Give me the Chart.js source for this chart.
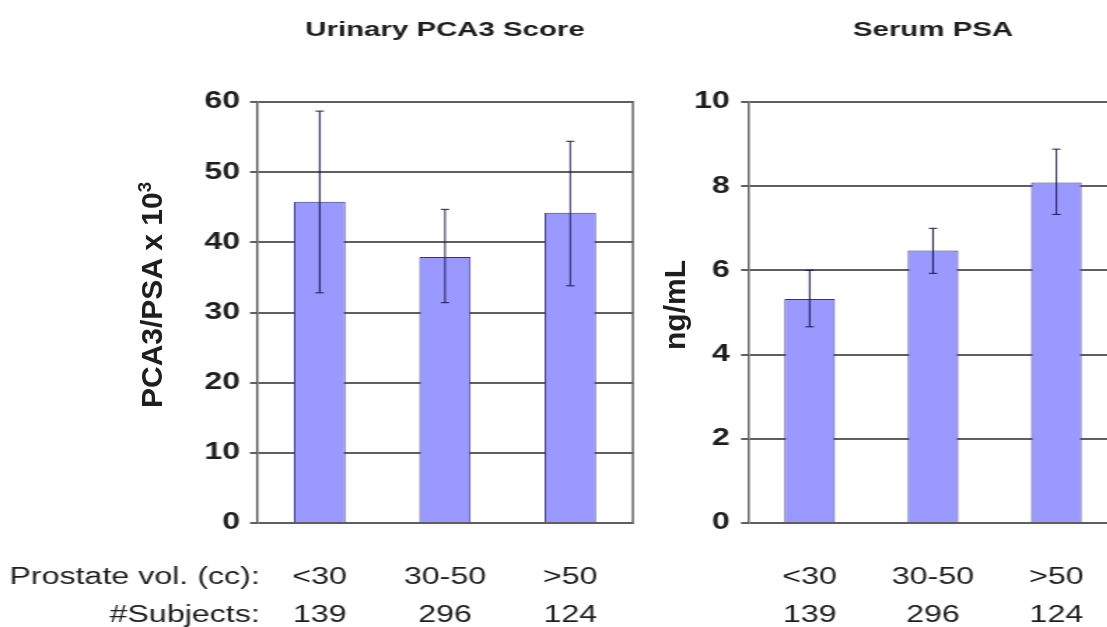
<!DOCTYPE html>
<html>
<head>
<meta charset="utf-8">
<script src="https://cdn.jsdelivr.net/npm/chart.js@4/dist/chart.umd.min.js"></script>
<style>
  html, body { margin: 0; padding: 0; background: #fff; overflow: hidden; width: 1107px; height: 627px; }
  /* 元画像は横に引き伸ばされているので、描画面ごと横に伸ばす */
  #stage { position: absolute; left: 0; top: 0; width: 791px; height: 627px; transform: scaleX(1.4); transform-origin: 0 0; }
  #stage canvas { position: absolute; top: 0; }
  .ytitle { position: absolute; transform: translate(-50%, -50%) rotate(-90deg); white-space: nowrap;
            font: bold 30px "Liberation Sans", Arial, sans-serif; color: #1e1e1e; }
  .ytitle sup { font-size: 0.62em; line-height: 0; }
</style>
</head>
<body>
<div id="stage">
  <canvas id="pca3_chart" width="460" height="627" style="left:0px"></canvas>
  <canvas id="psa_chart" width="331" height="627" style="left:470px"></canvas>
</div>
<div class="ytitle" style="left:152px; top:295px">PCA3/PSA x 10<sup>3</sup></div>
<div class="ytitle" style="left:675px; top:305px">ng/mL</div>
<script>
// カテゴリ（前立腺容積）と被験者数
const volumes  = ['<30', '30-50', '>50'];
const subjects = ['139', '296', '124'];
const rowLabels = ['Prostate vol. (cc):', '#Subjects:'];

// 尿中PCA3スコア（平均・誤差範囲）
const pca3Mean = [45.8, 37.9, 44.2];
const pca3Low  = [32.8, 31.4, 33.8];
const pca3High = [58.7, 44.7, 54.4];

// 血清PSA（平均・誤差範囲）
const psaMean = [5.32, 6.47, 8.09];
const psaLow  = [4.66, 5.93, 7.33];
const psaHigh = [6.00, 7.00, 8.88];

Chart.defaults.font.family = '"Liberation Sans", Arial, sans-serif';
Chart.defaults.color = '#1e1e1e';
Chart.defaults.animation = false;

const gridColor = '#5f5f5f';
const labelGap = 36;   // 軸とカテゴリラベルの間隔

// エラーバーを描画
const errorBarPlugin = {
    id: 'errorBars',
    afterDatasetsDraw(chart) {
        const ctx = chart.ctx;
        const yScale = chart.scales.y;
        chart.data.datasets.forEach((ds, di) => {
            const meta = chart.getDatasetMeta(di);
            meta.data.forEach((bar, i) => {
                const yLow = yScale.getPixelForValue(ds.errLow[i]);
                const yHigh = yScale.getPixelForValue(ds.errHigh[i]);
                ctx.save();
                ctx.strokeStyle = '#1c1c50';
                ctx.lineWidth = 1;
                ctx.beginPath();
                ctx.moveTo(bar.x, yLow);
                ctx.lineTo(bar.x, yHigh);
                ctx.moveTo(bar.x - 3, yHigh);
                ctx.lineTo(bar.x + 3, yHigh);
                ctx.moveTo(bar.x - 3, yLow);
                ctx.lineTo(bar.x + 3, yLow);
                ctx.stroke();
                ctx.restore();
            });
        });
    }
};

// 右側の枠線
const framePlugin = {
    id: 'frameRight',
    beforeDatasetsDraw(chart) {
        const a = chart.chartArea;
        const ctx = chart.ctx;
        ctx.save();
        ctx.strokeStyle = gridColor;
        ctx.lineWidth = 1.5;
        ctx.beginPath();
        ctx.moveTo(a.right, a.top - 1);
        ctx.lineTo(a.right, a.bottom + 1);
        ctx.stroke();
        ctx.restore();
    }
};

// 行見出し（Prostate vol. / #Subjects）
const rowLabelPlugin = {
    id: 'rowLabels',
    afterDraw(chart) {
        const xScale = chart.scales.x;
        const ctx = chart.ctx;
        const lh = 38;
        const top = xScale.top + labelGap;
        ctx.save();
        ctx.font = '23px "Liberation Sans", Arial, sans-serif';
        ctx.fillStyle = '#1e1e1e';
        ctx.textAlign = 'right';
        ctx.textBaseline = 'middle';
        rowLabels.forEach((t, i) => {
            ctx.fillText(t, chart.chartArea.left + 2, top + lh * (i + 0.5));
        });
        ctx.restore();
    }
};

function createChart(canvasId, title, mean, low, high, yMax, yStep, yWidth, padRight, tickPad, extraPlugins){
    const ctx = document.getElementById(canvasId).getContext('2d');
    return new Chart(ctx, {
        type: 'bar',
        data: {
            labels: volumes.map((v, i) => [v, subjects[i]]),
            datasets: [{
                data: mean,
                errLow: low,
                errHigh: high,
                backgroundColor: '#9999ff',
                borderColor: '#333388',
                borderWidth: 1,
                barPercentage: 0.41,
                categoryPercentage: 1.0,
            }]
        },
        options: {
            responsive: false,
            maintainAspectRatio: false,
            layout: { padding: { left: 0, right: padRight, top: 0, bottom: 0 } },
            plugins: {
                legend: { display: false },
                tooltip: { enabled: false },
                title: {
                    display: true,
                    text: title,
                    fullSize: false,
                    font: { size: 21, weight: 'bold' },
                    color: '#1e1e1e',
                    padding: { top: 17.4, bottom: 59.4 },
                },
            },
            scales: {
                x: {
                    // 目盛り線は透明にして、ラベル位置の調整だけに使う
                    grid: { display: true, drawOnChartArea: false, drawTicks: true, tickLength: labelGap, color: 'rgba(0,0,0,0)' },
                    border: { display: false },
                    ticks: {
                        font: { size: 23, lineHeight: 1.65 },
                        color: '#1e1e1e',
                        padding: 0,
                        maxRotation: 0,
                        autoSkip: false,
                    },
                    afterFit(scale) { scale.height = 104; },
                },
                y: {
                    min: 0,
                    max: yMax,
                    ticks: {
                        stepSize: yStep,
                        font: { size: 23, weight: 'bold' },
                        color: '#1e1e1e',
                        padding: tickPad,
                    },
                    grid: { color: gridColor, lineWidth: 2, tickLength: 5, drawTicks: true },
                    border: { display: true, color: gridColor, width: 1.5 },
                    afterFit(scale) { scale.width = yWidth; },
                }
            }
        },
        plugins: [framePlugin, errorBarPlugin].concat(extraPlugins)
    });
}

createChart('pca3_chart', 'Urinary PCA3 Score', pca3Mean, pca3Low, pca3High, 60, 10, 183.6, 7.9, 7, [rowLabelPlugin]);
createChart('psa_chart', 'Serum PSA', psaMean, psaLow, psaHigh, 10, 2, 64.3, 2.4, 7.9, []);
</script>
</body>
</html>
